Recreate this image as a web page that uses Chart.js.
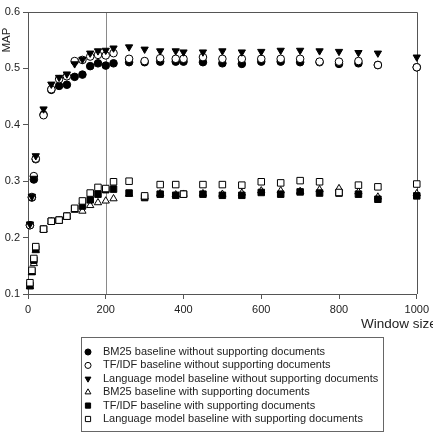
<!DOCTYPE html>
<html>
<head>
<meta charset="utf-8">
<script src="https://cdn.jsdelivr.net/npm/chart.js@4.4.0/dist/chart.umd.min.js"></script>
<style>
  html, body { margin: 0; padding: 0; background: #fff; }
  #wrap { width: 433px; height: 433px; }
</style>
</head>
<body>
<div id="wrap"><canvas id="mapChart" width="433" height="433"></canvas></div>
<script>
// window sizes on the x axis
const windowSizes = [5, 10, 15, 20, 40, 60, 80, 100, 120, 140, 160, 180, 200, 220, 260,
    300, 340, 380, 400, 450, 500, 550, 600, 650, 700, 750, 800, 850, 900, 1000];

// MAP values
const bm25NoSupp = [0.222, 0.271, 0.303, 0.339, 0.418, 0.462, 0.469, 0.471, 0.485, 0.489, 0.504, 0.509, 0.505, 0.509, 0.511,
    0.511, 0.512, 0.512, 0.512, 0.511, 0.509, 0.508, 0.512, 0.512, 0.511, 0.511, 0.508, 0.509, 0.506, 0.502];
const tfidfNoSupp = [0.222, 0.272, 0.309, 0.340, 0.417, 0.463, 0.481, 0.486, 0.513, 0.515, 0.521, 0.524, 0.523, 0.527, 0.517,
    0.513, 0.518, 0.517, 0.517, 0.520, 0.517, 0.517, 0.517, 0.517, 0.517, 0.512, 0.512, 0.513, 0.506, 0.502];
const lmNoSupp = [0.224, 0.273, 0.305, 0.345, 0.428, 0.472, 0.484, 0.490, 0.508, 0.516, 0.527, 0.531, 0.532, 0.536, 0.538,
    0.534, 0.531, 0.531, 0.529, 0.529, 0.531, 0.529, 0.530, 0.532, 0.532, 0.531, 0.530, 0.528, 0.527, 0.520];
const bm25Supp = [0.113, 0.138, 0.154, 0.177, 0.214, 0.228, 0.230, 0.237, 0.249, 0.247, 0.257, 0.262, 0.265, 0.269, 0.277,
    0.272, 0.278, 0.276, 0.277, 0.278, 0.277, 0.279, 0.283, 0.283, 0.282, 0.285, 0.287, 0.281, 0.272, 0.278];
const tfidfSupp = [0.115, 0.140, 0.160, 0.180, 0.215, 0.229, 0.231, 0.238, 0.251, 0.256, 0.267, 0.277, 0.285, 0.286, 0.279,
    0.271, 0.277, 0.275, 0.277, 0.277, 0.275, 0.275, 0.280, 0.277, 0.281, 0.279, 0.279, 0.277, 0.268, 0.274];
const lmSupp = [0.120, 0.142, 0.163, 0.184, 0.215, 0.229, 0.231, 0.238, 0.252, 0.265, 0.279, 0.289, 0.287, 0.299, 0.300,
    0.274, 0.294, 0.294, 0.277, 0.294, 0.294, 0.293, 0.299, 0.297, 0.301, 0.299, 0.280, 0.293, 0.290, 0.295];

const seriesLabels = [
    'BM25 baseline without supporting documents',
    'TF/IDF baseline without supporting documents',
    'Language model baseline without supporting documents',
    'BM25 baseline with supporting documents',
    'TF/IDF baseline with supporting documents',
    'Language model baseline with supporting documents'
];
const seriesValues = [bm25NoSupp, tfidfNoSupp, lmNoSupp, bm25Supp, tfidfSupp, lmSupp];

const xTicks = [0, 200, 400, 600, 800, 1000];
const yTicks = [0.1, 0.2, 0.3, 0.4, 0.5, 0.6];
const markerLine = 200;

// marker look per series
const markers = [
    { style: 'circle', fill: '#000', radius: 3.8, rotation: 0 },
    { style: 'circle', fill: '#fff', radius: 3.8, rotation: 0 },
    { style: 'triangle', fill: '#000', radius: 4.2, rotation: 180 },
    { style: 'triangle', fill: '#fff', radius: 4.2, rotation: 0 },
    { style: 'rect', fill: '#000', radius: 4.6, rotation: 0 },
    { style: 'rect', fill: '#fff', radius: 4.6, rotation: 0 }
];

const FONT = 'Liberation Sans, Arial, sans-serif';
const TEXT = '#222';
const AXIS = '#555';

const datasets = seriesValues.map((vals, i) => ({
    label: seriesLabels[i],
    data: vals.map((v, k) => ({ x: windowSizes[k], y: v })),
    pointStyle: markers[i].style,
    pointRotation: markers[i].rotation,
    pointRadius: markers[i].radius,
    pointBackgroundColor: markers[i].fill,
    pointBorderColor: '#000',
    pointBorderWidth: 1,
    showLine: false,
    clip: false,
    order: 5 - i
}));

const extras = {
    id: 'extras',
    beforeDatasetsDraw(chart) {
        const c = chart.ctx, a = chart.chartArea;
        const x = Math.round(chart.scales.x.getPixelForValue(markerLine)) + 0.5;
        c.save();
        c.strokeStyle = '#8a8a8a';
        c.lineWidth = 1;
        c.beginPath();
        c.moveTo(x, a.top);
        c.lineTo(x, a.bottom);
        c.stroke();
        // top and right frame
        c.strokeStyle = AXIS;
        c.beginPath();
        c.moveTo(a.left, Math.round(a.top) + 0.5);
        c.lineTo(Math.round(a.right) + 0.5, Math.round(a.top) + 0.5);
        c.lineTo(Math.round(a.right) + 0.5, a.bottom);
        c.stroke();
        c.restore();
    },
    afterDraw(chart) {
        const c = chart.ctx;
        c.save();
        c.fillStyle = TEXT;
        // axis titles
        c.font = '11.5px ' + FONT;
        c.textAlign = 'center';
        c.textBaseline = 'middle';
        c.translate(7, 40);
        c.rotate(-Math.PI / 2);
        c.fillText('MAP', 0, 0);
        c.setTransform(1, 0, 0, 1, 0, 0);
        c.font = '13.5px ' + FONT;
        c.textAlign = 'left';
        c.textBaseline = 'alphabetic';
        c.fillText('Window size', 361, 328);

        // legend box
        c.strokeStyle = '#666';
        c.lineWidth = 1;
        c.strokeRect(81.5, 337.5, 302, 94);
        c.font = '11px ' + FONT;
        c.textBaseline = 'middle';
        seriesLabels.forEach((label, i) => {
            const y = 352 + i * 13.4;
            const m = markers[i];
            c.fillStyle = m.fill;
            c.strokeStyle = '#000';
            Chart.helpers.drawPoint(c, {
                pointStyle: m.style,
                rotation: m.rotation,
                radius: m.radius * 0.8,
                borderWidth: 1
            }, 88, y);
            c.fillStyle = TEXT;
            c.fillText(label, 103, y);
        });
        c.restore();
    }
};

const chart = new Chart(document.getElementById('mapChart'), {
    type: 'scatter',
    data: { datasets },
    options: {
        responsive: false,
        animation: false,
        layout: { padding: { top: 12, right: 15, left: 0, bottom: 0 } },
        plugins: {
            legend: { display: false },
            tooltip: { enabled: false }
        },
        scales: {
            x: {
                type: 'linear',
                min: 0,
                max: 1000,
                afterBuildTicks: (s) => { s.ticks = xTicks.map(v => ({ value: v })); },
                afterFit: (s) => { s.height = 139; },
                grid: { drawOnChartArea: false, drawTicks: true, tickLength: 5, color: AXIS },
                border: { display: true, color: AXIS },
                ticks: {
                    color: TEXT,
                    font: { family: FONT, size: 11 },
                    padding: 4,
                    maxRotation: 0,
                    callback: (v) => String(v)
                }
            },
            y: {
                type: 'linear',
                min: 0.1,
                max: 0.6,
                afterBuildTicks: (s) => { s.ticks = yTicks.map(v => ({ value: v })); },
                afterFit: (s) => { s.width = 28; },
                grid: { drawOnChartArea: false, drawTicks: true, tickLength: 5, color: AXIS },
                border: { display: true, color: AXIS },
                ticks: {
                    color: TEXT,
                    font: { family: FONT, size: 11 },
                    padding: 3,
                    callback: (v) => Number(v).toFixed(1)
                }
            }
        }
    },
    plugins: [extras]
});
</script>
</body>
</html>
